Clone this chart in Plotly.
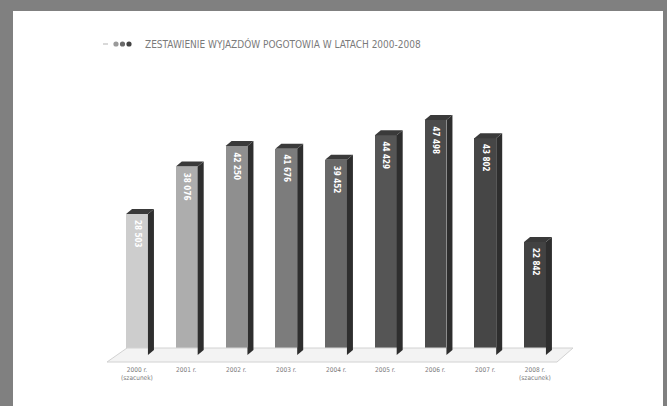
import plotly.graph_objects as go

years = ["2000 r.", "2001 r.", "2002 r.", "2003 r.", "2004 r.", "2005 r.", "2006 r.", "2007 r.", "2008 r."]
notes = ["(szacunek)", "", "", "", "", "", "", "", "(szacunek)"]
values = [28503, 38076, 42250, 41676, 39452, 44429, 47498, 43802, 22842]
value_labels = ["28 503", "38 076", "42 250", "41 676", "39 452", "44 429", "47 498", "43 802", "22 842"]
front_colors = ["#cdcdcd", "#adadad", "#8f8f8f", "#7c7c7c", "#686868", "#555555", "#4b4b4b", "#464646", "#424242"]
title = "ZESTAWIENIE WYJAZDÓW POGOTOWIA W LATACH 2000-2008"

W, H = 667, 406
px_x = 49.75           # pixels per category
px_y = 1 / 202.1       # pixels per unit
x0 = -137 / px_x
x1 = x0 + W / px_x
y0 = -(H - 355) / px_y
y1 = y0 + H / px_y

bw = 0.44              # front face width
dx = 6 / px_x          # depth offset x
dy = 5 / px_y          # depth offset y

fig = go.Figure()

# floor
fl_front = -7 / px_y
fl_back = 7 / px_y
fig.add_trace(go.Scatter(
    x=[-0.603, 8.442, 8.764, -0.201, -0.603],
    y=[fl_front, fl_front, fl_back, fl_back, fl_front],
    mode="lines", fill="toself", fillcolor="#f3f3f3",
    line=dict(color="#d2d2d2", width=1), hoverinfo="skip", showlegend=False))

xs = list(range(len(values)))

# front faces
fig.add_trace(go.Bar(x=xs, y=values, width=bw, marker=dict(color=front_colors, line=dict(width=0)),
                     showlegend=False, hoverinfo="skip"))

for i, v in enumerate(values):
    l, r = i - bw / 2, i + bw / 2
    # side face
    fig.add_trace(go.Scatter(
        x=[r, r + dx, r + dx, r, r],
        y=[0, dy, v + dy, v, 0],
        mode="lines", fill="toself", fillcolor="#2e2e2e",
        line=dict(width=0, color="#2e2e2e"), hoverinfo="skip", showlegend=False))
    # top face
    fig.add_trace(go.Scatter(
        x=[l, r, r + dx, l + dx, l],
        y=[v, v, v + dy, v + dy, v],
        mode="lines", fill="toself", fillcolor="#3a3a3a",
        line=dict(width=0, color="#3a3a3a"), hoverinfo="skip", showlegend=False))

annotations = []
for i, v in enumerate(values):
    annotations.append(dict(
        x=i, y=v - 4 / px_y, xref="x", yref="y", text="<b>" + value_labels[i] + "</b>",
        textangle=90, showarrow=False, xanchor="center", yanchor="top",
        font=dict(family="Liberation Sans Narrow, DejaVu Sans Condensed", size=8, color="white")))
    lab = years[i] + ("<br>" + notes[i] if notes[i] else "")
    annotations.append(dict(
        x=i, y=-8.5 / px_y, xref="x", yref="y", text=lab, showarrow=False,
        xanchor="center", yanchor="top",
        font=dict(family="Liberation Sans Narrow, DejaVu Sans Condensed", size=6.5, color="#7a7a7a")))

annotations.append(dict(
    x=143 / W, y=1 - 44 / H, xref="paper", yref="paper", text=title, showarrow=False,
    xanchor="left", yanchor="middle",
    font=dict(family="Liberation Sans Narrow, DejaVu Sans Condensed", size=10, color="#7a7a7a")))

shapes = [
    dict(type="rect", xref="paper", yref="paper", x0=13 / W, x1=663 / W, y0=-0.1, y1=1 - 11 / H,
         fillcolor="white", line=dict(width=0), layer="below"),
    dict(type="line", xref="paper", yref="paper", x0=103 / W, x1=108 / W, y0=1 - 44 / H, y1=1 - 44 / H,
         line=dict(color="#cccccc", width=1.5)),
]
for k, (cx, col) in enumerate([(116, "#9a9a9a"), (122.5, "#6a6a6a"), (129, "#444444")]):
    r = 2.6
    shapes.append(dict(type="circle", xref="paper", yref="paper",
                       x0=(cx - r) / W, x1=(cx + r) / W, y0=1 - (44 + r) / H, y1=1 - (44 - r) / H,
                       fillcolor=col, line=dict(width=0)))

fig.update_layout(
    width=W, height=H, margin=dict(l=0, r=0, t=0, b=0),
    paper_bgcolor="#808080", plot_bgcolor="rgba(0,0,0,0)",
    xaxis=dict(range=[x0, x1], visible=False, fixedrange=True),
    yaxis=dict(range=[y0, y1], visible=False, fixedrange=True),
    shapes=shapes, annotations=annotations, bargap=0,
)

fig.write_html("out.html", config={"displayModeBar": False},
               post_script="document.body.style.margin='0';document.body.style.overflow='hidden';")
